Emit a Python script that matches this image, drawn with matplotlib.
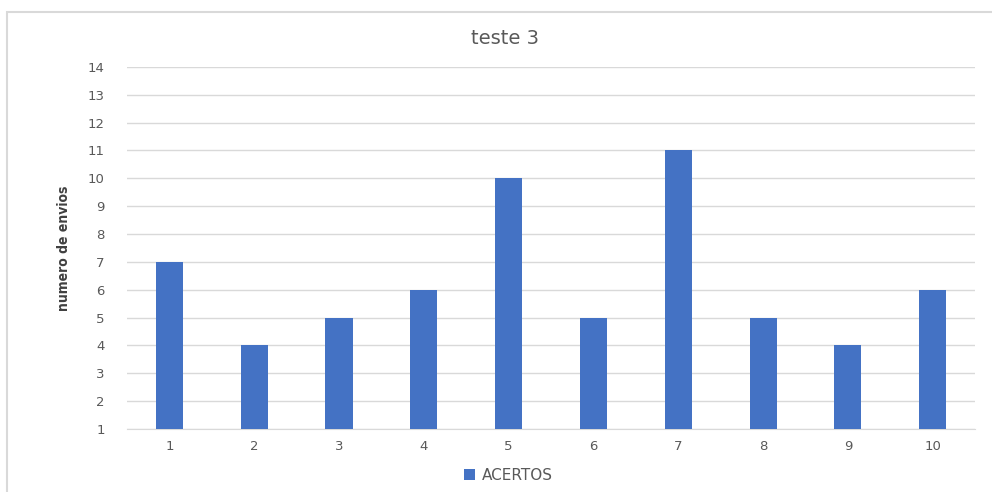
import matplotlib.pyplot as plt
from matplotlib.patches import Rectangle

# dados do grafico
tentativas = [1, 2, 3, 4, 5, 6, 7, 8, 9, 10]
acertos = [7, 4, 5, 6, 10, 5, 11, 5, 4, 6]
base = 1
yticks = list(range(1, 15))

cor_barra = '#4472C4'
cor_texto = '#595959'
cor_grade = '#D9D9D9'

fig = plt.figure(figsize=(9.92, 4.92), dpi=100)
ax = fig.add_axes([0.128, 0.128, 0.855, 0.736])

# moldura do grafico
fig.patches.append(Rectangle((7 / 992, -0.1), 1.2, 1 - 12 / 492 + 0.1,
                             transform=fig.transFigure, fill=False,
                             edgecolor='#D9D9D9', linewidth=1.5))

ax.bar(tentativas, [v - base for v in acertos], bottom=base, width=0.32,
       color=cor_barra, label='ACERTOS', zorder=3)

ax.set_xlim(0.5, 10.5)
ax.set_ylim(1, 14)
ax.set_yticks(yticks)
ax.set_xticks(tentativas)
ax.grid(axis='y', color=cor_grade, linewidth=1, zorder=0)
for s in ['top', 'right', 'left']:
    ax.spines[s].set_visible(False)
ax.spines['bottom'].set_color(cor_grade)
ax.tick_params(length=0, labelsize=9.5, colors=cor_texto)
ax.tick_params(axis='y', pad=16)
ax.tick_params(axis='x', pad=8)

fig.text(505 / 992, 1 - 38 / 492, 'teste 3', fontsize=14, color=cor_texto,
         ha='center', va='center')
ax.set_ylabel('numero de envios', fontsize=10, fontweight='bold',
              fontstretch='condensed',
              family=['DejaVu Sans'],
              color='#404040', labelpad=12)

ax.legend(loc='upper center', bbox_to_anchor=(0.45, -0.07), frameon=False,
          fontsize=11, labelcolor=cor_texto, handlelength=0.7,
          handleheight=0.7, handletextpad=0.5)

fig.savefig('out.png')
